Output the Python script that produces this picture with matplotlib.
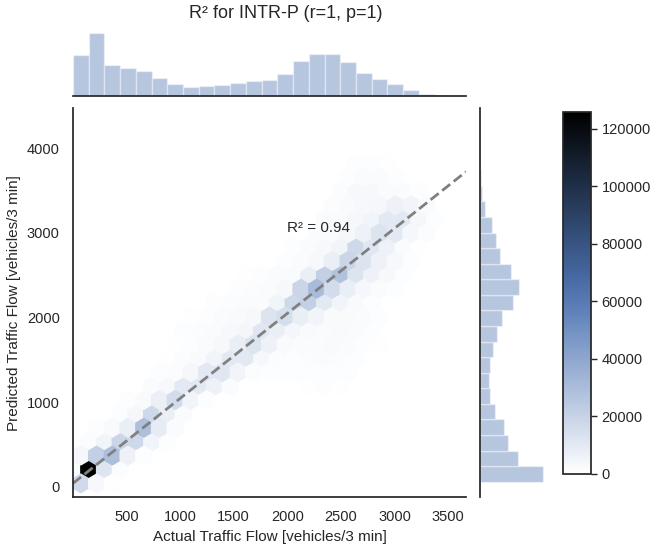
import numpy as np
import matplotlib.pyplot as plt
import seaborn as sns

sns.set_theme(style="white")
plt.rcParams['font.family'] = ['Liberation Sans', 'DejaVu Sans']

# binned samples: actual flow, predicted flow, count
hex_actual = [
    73, 220, 367,
    0, 147, 293, 440,
    73, 220, 367, 513, 660,
    147, 293, 440, 587, 733, 880,
    220, 367, 513, 660, 807, 953,
    440, 587, 733, 880, 1027,
    513, 660, 807, 953, 1100, 1247,
    733, 880, 1027, 1173, 1320, 1467, 2200, 2347, 2494,
    807, 953, 1100, 1247, 1394, 1540, 1687, 1834, 1980, 2127, 2274, 2420, 2567,
    880, 1027, 1173, 1320, 1467, 1614, 1760, 1907, 2054, 2200, 2347, 2494, 2640,
    953, 1100, 1247, 1394, 1540, 1687, 1834, 1980, 2127, 2274, 2420, 2567, 2714, 2860,
    1027, 1173, 1320, 1467, 1614, 1760, 1907, 2054, 2200, 2347, 2494, 2640, 2787,
    1100, 1247, 1394, 1540, 1687, 1834, 1980, 2127, 2274, 2420, 2567, 2714, 2860,
    1320, 1467, 1614, 1760, 1907, 2054, 2200, 2347, 2494, 2640, 2787,
    1540, 1687, 1834, 1980, 2127, 2274, 2420, 2567, 2714, 2860, 3007,
    1614, 1760, 1907, 2054, 2200, 2347, 2494, 2640, 2787, 2934, 3081,
    1980, 2127, 2274, 2420, 2567, 2714, 2860, 3007, 3154,
    2054, 2200, 2347, 2494, 2640, 2787, 2934, 3081, 3227,
    2274, 2420, 2567, 2714, 2860, 3007, 3154, 3301,
    2347, 2494, 2640, 2787, 2934, 3081, 3227, 3374,
    2420, 2567, 2714, 2860, 3007, 3154, 3301,
    2494, 2640, 2787, 2934, 3081, 3227,
    2567, 2714, 2860, 3007,
    2640, 2787, 2934,
]
hex_pred = (
    [39] * 3 + [204] * 4 + [368] * 5 + [532] * 6 + [697] * 6 + [861] * 5
    + [1025] * 6 + [1189] * 9 + [1354] * 13 + [1518] * 13 + [1683] * 14
    + [1847] * 13 + [2011] * 13 + [2175] * 11 + [2340] * 11 + [2504] * 11
    + [2668] * 9 + [2833] * 9 + [2997] * 8 + [3161] * 8 + [3326] * 7
    + [3490] * 6 + [3654] * 4 + [3818] * 3
)
hex_count = [
    17000, 3000, 900,
    2000, 126000, 12000, 1800,
    3500, 22000, 29000, 6000, 1400,
    1800, 5000, 19000, 18000, 5000, 1000,
    1000, 2800, 7500, 29000, 9000, 2000,
    1400, 3500, 18000, 7500, 2400,
    1000, 2800, 7000, 16000, 5000, 1000,
    2000, 3000, 10000, 10000, 6000, 2400, 900, 1000, 900,
    1000, 1800, 3500, 10000, 11000, 5000, 1800, 1000, 1000, 1000, 1400, 1400, 1000,
    900, 1800, 2800, 5000, 10000, 10000, 3800, 1800, 1400, 1800, 2000, 1800, 1000,
    900, 1400, 2400, 3000, 7500, 12500, 6000, 2800, 2000, 2000, 2800, 2400, 1400, 700,
    1200, 1800, 2400, 3000, 4000, 11000, 7500, 4000, 2800, 2000, 2800, 2000, 1000,
    900, 1400, 2000, 2800, 3000, 12500, 15000, 7500, 5000, 2800, 2800, 2000, 1000,
    1200, 1800, 2000, 2400, 5000, 18000, 22000, 10000, 5000, 2800, 1400,
    1200, 1500, 2000, 3000, 19000, 31000, 16000, 7500, 3800, 2000, 1000,
    900, 1200, 2000, 2400, 7500, 22000, 28000, 12500, 6000, 3000, 1200,
    1200, 2000, 3000, 7500, 19000, 12500, 6000, 3000, 1200,
    1200, 2000, 3000, 5000, 18000, 11000, 6000, 2400, 900,
    2000, 2400, 3800, 6000, 12500, 10000, 3800, 1500,
    2000, 2400, 3800, 5000, 10000, 10000, 3800, 1200,
    1500, 2800, 3000, 3800, 6000, 5000, 2400,
    1500, 3000, 3000, 2000, 2000, 1200,
    1000, 2000, 2000, 1000,
    1000, 1400, 700,
]

# marginal histograms (25 bins each)
actual_hist = [122, 189, 92, 84, 75, 54, 35, 27, 29, 33, 39, 43, 46,
               66, 105, 125, 125, 101, 69, 51, 36, 17, 5, 1, 0]
pred_hist = [0.5, 189, 115, 83, 71, 46, 30, 28, 29, 38, 50, 65, 100,
             117, 93, 59, 48, 35, 16, 6, 3, 1, 0, 0, 0]

# fitted line end points and score
line_actual = [0, 3668]
line_pred = [40, 3723]
r2 = 0.94

x_range = (0, 3668)
y_range = (-125, 4476)

base = "#4c72b0"
cmap = sns.blend_palette([sns.set_hls_values(base, l=v) for v in np.linspace(1, 0, 12)],
                         as_cmap=True)

fig = plt.figure(figsize=(6.53, 5.46), dpi=100)
ax = fig.add_axes([0.1118, 0.0892, 0.6018, 0.7130])
ax_top = fig.add_axes([0.1118, 0.8247, 0.6018, 0.1213], sharex=ax)
ax_right = fig.add_axes([0.7351, 0.0892, 0.1010, 0.7130], sharey=ax)
cax = fig.add_axes([0.8626, 0.1319, 0.0424, 0.6635])

hb = ax.hexbin(hex_actual, hex_pred, C=hex_count, reduce_C_function=np.sum,
               gridsize=25, extent=x_range + y_range, cmap=cmap, vmin=0, vmax=126000)
ax.plot(line_actual, line_pred, ls="--", color="gray", lw=2)
ax.text(2000, 3060, f"R² = {r2:.2f}", fontsize=11, va="center", color=".15")

ax.set_xlim(*x_range)
ax.set_ylim(*y_range)
ax.set_xticks([500, 1000, 1500, 2000, 2500, 3000, 3500])
ax.set_yticks([0, 1000, 2000, 3000, 4000])
ax.tick_params(labelsize=10.5)
ax.set_xlabel("Actual Traffic Flow [vehicles/3 min]", fontsize=11)
ax.set_ylabel("Predicted Traffic Flow [vehicles/3 min]", fontsize=11)
sns.despine(ax=ax)

x_edges = np.linspace(*x_range, len(actual_hist) + 1)
y_edges = np.linspace(*y_range, len(pred_hist) + 1)
ax_top.bar(x_edges[:-1], actual_hist, width=np.diff(x_edges), align="edge",
           color=base, alpha=0.4, edgecolor="white", linewidth=1)
ax_right.barh(y_edges[:-1], pred_hist, height=np.diff(y_edges), align="edge",
              color=base, alpha=0.4, edgecolor="white", linewidth=1)
ax_top.set_ylim(0, max(actual_hist) * 1.05)
ax_right.set_xlim(0, max(pred_hist) * 1.05)
ax_top.tick_params(labelbottom=False, labelleft=False)
ax_right.tick_params(labelbottom=False, labelleft=False)
sns.despine(ax=ax_top, left=True)
sns.despine(ax=ax_right, bottom=True)

cb = fig.colorbar(hb, cax=cax)
cb.set_ticks(range(0, 120001, 20000))
cb.outline.set_edgecolor(".15")
cb.outline.set_linewidth(1.25)
cax.tick_params(right=True, length=4, width=1, labelsize=10.5, color=".15")

fig.text(286 / 653, 1 - 14 / 546, "R² for INTR-P (r=1, p=1)", ha="center", va="center",
         fontsize=13, color=".15")

fig.savefig("out.png", dpi=100)
